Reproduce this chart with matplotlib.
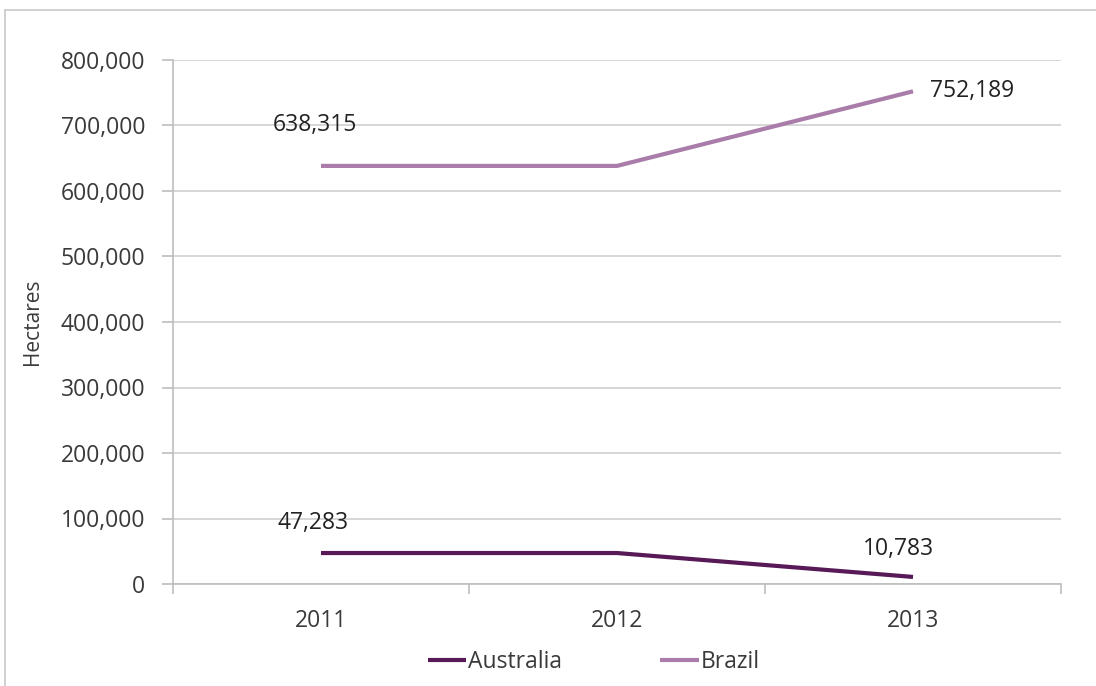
import matplotlib.pyplot as plt
from matplotlib.patches import Rectangle
from matplotlib.ticker import FuncFormatter

years = ["2011", "2012", "2013"]
australia = [47283, 47283, 10783]
brazil = [638315, 638315, 752189]

plt.rcParams['font.family'] = ['Open Sans', 'DejaVu Sans']

W, H = 1096, 686
fig = plt.figure(figsize=(W / 100, H / 100), dpi=100)
fig.patch.set_facecolor('white')

# outer frame (top and left edges visible, rest runs past the canvas)
fig.patches.append(Rectangle((5 / W, -0.05), 1.2, (H - 10) / H + 0.05,
                             transform=fig.transFigure, fill=False,
                             edgecolor='#c8c8c8', linewidth=1.2))

ax = fig.add_axes([173 / W, 1 - 584 / H, (1061 - 173) / W, (584 - 60) / H])
x = list(range(len(years)))
c_aus = '#571a57'
c_bra = '#a97ca9'
ax.plot(x, australia, color=c_aus, lw=3.0, solid_capstyle='butt', label='Australia', zorder=3)
ax.plot(x, brazil, color=c_bra, lw=3.0, solid_capstyle='butt', label='Brazil', zorder=3)

ax.set_xlim(-0.5, 2.5)
ax.set_ylim(0, 800000)
ax.set_yticks(range(0, 800001, 100000))
ax.yaxis.set_major_formatter(FuncFormatter(lambda v, p: f"{int(v):,}"))
ax.set_xticks(x)
ax.set_xticklabels(years)
ax.set_xticks([-0.5, 0.5, 1.5, 2.5], minor=True)

ax.grid(axis='y', color='#d0d0d0', lw=1.2)
ax.set_axisbelow(True)
for s in ['top', 'right']:
    ax.spines[s].set_visible(False)
ax.spines['left'].set_color('#bdbdbd')
ax.spines['bottom'].set_color('#bdbdbd')
ax.spines['left'].set_linewidth(1.2)
ax.spines['bottom'].set_linewidth(1.2)

fs = 16.5
tc = '#3a3a3a'
ax.tick_params(axis='y', length=8, color='#bdbdbd', width=1.2, labelsize=fs,
               labelcolor=tc, pad=12)
ax.tick_params(axis='x', which='major', length=0, labelsize=fs, labelcolor=tc, pad=18)
ax.tick_params(axis='x', which='minor', length=7, color='#bdbdbd', width=1.2)

ax.set_ylabel('Hectares', fontsize=15, color=tc, labelpad=13)

tkw = dict(fontsize=fs, color='#222222', va='center', textcoords='offset points')
ax.annotate(f"{brazil[0]:,}", (x[0], brazil[0]), xytext=(-4.3, 29.5), ha='center', **tkw)
ax.annotate(f"{brazil[2]:,}", (x[2], brazil[2]), xytext=(12, 0), ha='left', **tkw)
ax.annotate(f"{australia[0]:,}", (x[0], australia[0]), xytext=(-5.8, 21.6), ha='center', **tkw)
ax.annotate(f"{australia[2]:,}", (x[2], australia[2]), xytext=(-10.8, 20), ha='center', **tkw)

leg = fig.legend(loc='center', bbox_to_anchor=(594 / W, 1 - 662 / H), ncol=2, frameon=False,
                 fontsize=fs, handlelength=1.66, handletextpad=0.1, columnspacing=4.28)
for t in leg.get_texts():
    t.set_color(tc)

fig.savefig('out.png', dpi=100, facecolor='white')
